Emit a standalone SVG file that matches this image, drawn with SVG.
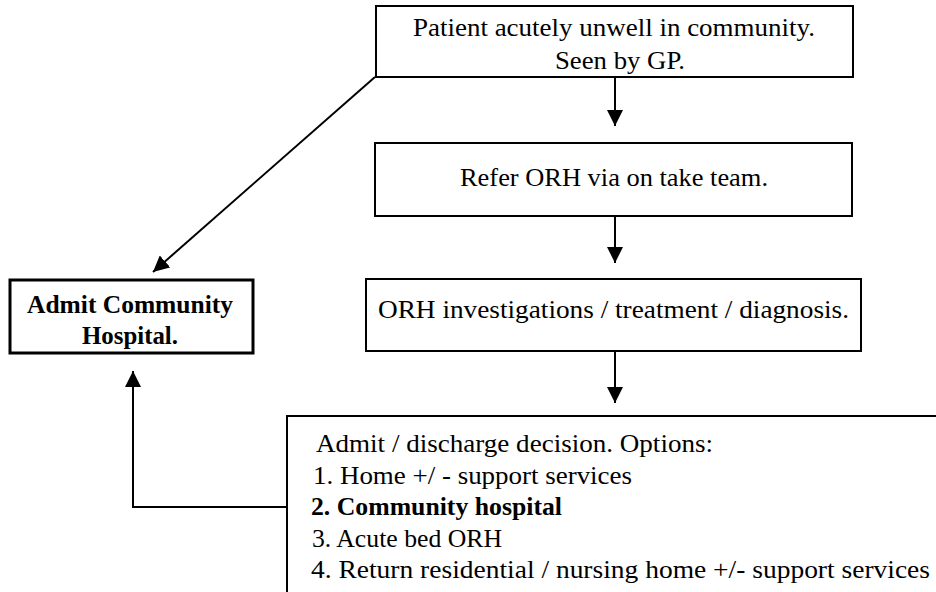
<svg xmlns="http://www.w3.org/2000/svg" width="936" height="592" viewBox="0 0 936 592">
<style>
.box{fill:#fff;stroke:#000;stroke-width:2}
text{font-family:'Liberation Serif','Times New Roman',serif;font-size:25px;fill:#000}
.b{font-weight:bold}
.c{fill:none;stroke:#000;stroke-width:2}
</style>
<defs>
<marker id="ah" viewBox="0 0 16 16" refX="16" refY="8" markerWidth="16" markerHeight="16" markerUnits="userSpaceOnUse" orient="auto">
<path d="M0,0 L16,8 L0,16 z" fill="#000"/>
</marker>
</defs>
<rect width="936" height="592" fill="#fff"/>
<g id="n1">
<rect class="box" x="376" y="6" width="477" height="71"/>
<text x="413" y="36" textLength="402" lengthAdjust="spacingAndGlyphs">Patient acutely unwell in community.</text>
<text x="555" y="69" textLength="130" lengthAdjust="spacingAndGlyphs">Seen by GP.</text>
</g>
<g id="n2">
<rect class="box" x="375" y="143" width="477" height="73"/>
<text x="460" y="186" textLength="308" lengthAdjust="spacingAndGlyphs">Refer ORH via on take team.</text>
</g>
<g id="n3">
<rect class="box" x="366" y="279" width="495" height="72"/>
<text x="378" y="318" textLength="471" lengthAdjust="spacingAndGlyphs">ORH investigations / treatment / diagnosis.</text>
</g>
<g id="n4">
<rect class="box" x="10" y="280" width="243" height="73" style="stroke-width:3"/>
<text class="b" x="27" y="313" style="font-size:26px" textLength="206" lengthAdjust="spacingAndGlyphs">Admit Community</text>
<text class="b" x="82" y="344" style="font-size:26px" textLength="96" lengthAdjust="spacingAndGlyphs">Hospital.</text>
</g>
<g id="n5">
<rect class="box" x="287" y="416" width="700" height="300"/>
<text x="316" y="452" textLength="397" lengthAdjust="spacingAndGlyphs">Admit / discharge decision. Options:</text>
<text x="313" y="484" textLength="319" lengthAdjust="spacingAndGlyphs">1. Home +/ - support services</text>
<text class="b" x="311" y="515" textLength="251" lengthAdjust="spacingAndGlyphs">2. Community hospital</text>
<text x="312" y="547" textLength="190" lengthAdjust="spacingAndGlyphs">3. Acute bed ORH</text>
<text x="311" y="578" textLength="619" lengthAdjust="spacingAndGlyphs">4. Return residential / nursing home +/- support services</text>
</g>
<g id="connectors">
<line class="c" x1="615" y1="77" x2="615" y2="126" marker-end="url(#ah)"/>
<line class="c" x1="615" y1="216" x2="615" y2="263" marker-end="url(#ah)"/>
<line class="c" x1="615" y1="351" x2="615" y2="403" marker-end="url(#ah)"/>
<line class="c" x1="375" y1="77" x2="153" y2="272" marker-end="url(#ah)"/>
<polyline class="c" points="287,507 133,507 133,371" marker-end="url(#ah)"/>
</g>
</svg>
